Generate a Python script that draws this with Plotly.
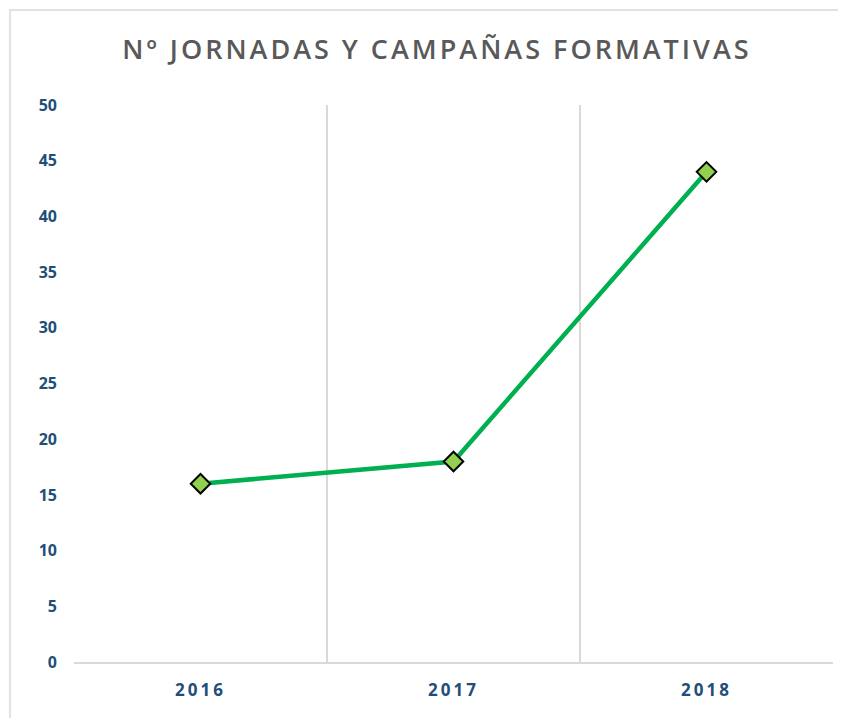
import plotly.graph_objects as go

years = ["2016", "2017", "2018"]
values = [16, 18, 44]
y_ticks = [0, 5, 10, 15, 20, 25, 30, 35, 40, 45, 50]

OFF = 8  # page offset
W, H = 846 - OFF, 718 - OFF
L, R, T, B = 74 - OFF, 13, 105 - OFF, 56
pw, ph = W - L - R, H - T - B

def px_x(px):
    return (px - OFF - L) / pw

def px_y(py):
    return (H - B - (py - OFF)) / ph

fig = go.Figure()
fig.add_trace(go.Scatter(
    x=years, y=values, mode="lines+markers",
    line=dict(color="#00B050", width=4.5),
    marker=dict(symbol="diamond", size=15, color="#92D050",
                line=dict(color="black", width=2)),
    showlegend=False, cliponaxis=False,
))

fig.add_shape(type="rect", xref="paper", yref="paper",
              x0=px_x(10), x1=px_x(840),
              y0=px_y(740), y1=px_y(10),
              line=dict(color="#D9D9D9", width=1.5), layer="below")

tick_text = ['<span style="letter-spacing:3px">%s</span>' % y for y in years]

fig.update_layout(
    width=W, height=H,
    margin=dict(l=L, r=R, t=T, b=B),
    paper_bgcolor="white", plot_bgcolor="white",
    title=dict(text='<span style="letter-spacing:3px">Nº JORNADAS Y CAMPAÑAS FORMATIVAS</span>',
               x=px_x(437), xanchor="center", xref="paper",
               y=1 - (50 - OFF) / H, yanchor="middle",
               font=dict(family="Open Sans", size=27, color="#595959", weight=600)),
    xaxis=dict(type="category", tickson="boundaries", range=[-0.5, 2.5],
               showgrid=True, gridcolor="#D9D9D9", gridwidth=1.5,
               showline=True, linecolor="#D9D9D9", linewidth=1.5,
               ticks="", zeroline=False,
               tickvals=years, ticktext=tick_text,
               tickfont=dict(family="Open Sans", size=17, color="#1F4E79", weight="bold"),
               ticklabelstandoff=12),
    yaxis=dict(range=[0, 50], tickvals=y_ticks, showgrid=False,
               zeroline=False, showline=False, ticks="",
               tickfont=dict(family="Open Sans", size=16, color="#1F4E79", weight="bold"),
               ticklabelstandoff=16),
)

fig.write_html("out.html")
